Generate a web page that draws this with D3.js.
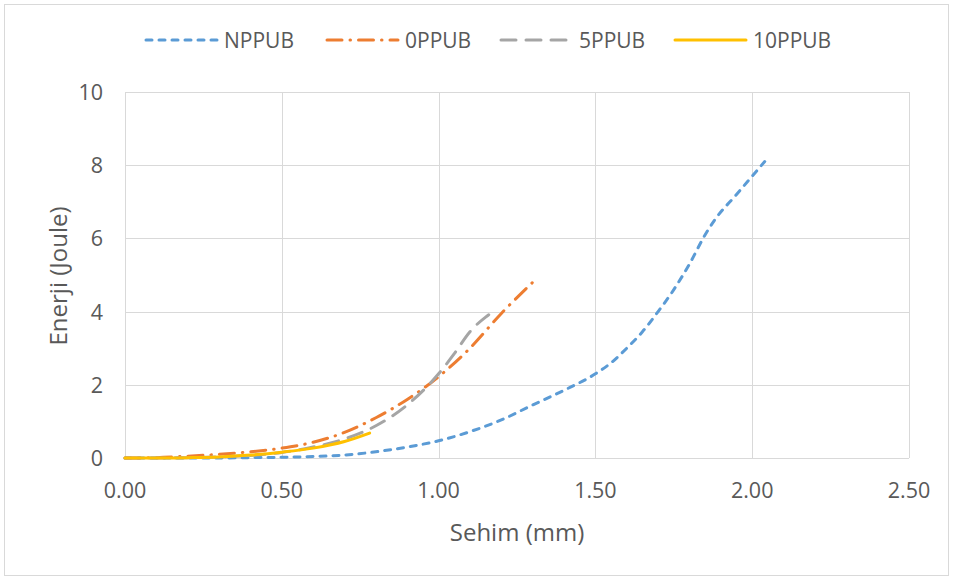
<!DOCTYPE html>
<html>
<head>
<meta charset="utf-8">
<script src="https://cdn.jsdelivr.net/npm/d3@7"></script>
<style>
  body { margin: 0; background: #fff; }
  svg { display: block; font-family: 'Open Sans', 'Noto Sans', sans-serif; }
</style>
</head>
<body>
<svg id="main_chart" width="953" height="581"></svg>
<script>
(function() {
  // values
  const series_names = ['NPPUB', '0PPUB', '5PPUB', '10PPUB'];
  const nppub_x = [0, 0.1, 0.2, 0.3, 0.4, 0.5, 0.6, 0.7, 0.8, 0.9, 1.0, 1.1, 1.2, 1.3, 1.4, 1.5, 1.55, 1.6, 1.65, 1.7, 1.75, 1.8, 1.85, 1.88, 1.95, 2.04];
  const nppub_y = [0, 0, 0, 0, 0.01, 0.02, 0.04, 0.08, 0.17, 0.3, 0.47, 0.72, 1.04, 1.45, 1.85, 2.3, 2.6, 3.0, 3.45, 4.0, 4.6, 5.3, 6.1, 6.5, 7.2, 8.1];
  const p0_x = [0, 0.1, 0.2, 0.3, 0.4, 0.5, 0.6, 0.7, 0.8, 0.9, 1.0, 1.1, 1.2, 1.3];
  const p0_y = [0, 0.01, 0.05, 0.1, 0.17, 0.27, 0.43, 0.7, 1.1, 1.6, 2.22, 3.0, 3.95, 4.8];
  const p5_x = [0, 0.1, 0.2, 0.3, 0.4, 0.5, 0.6, 0.7, 0.8, 0.9, 1.0, 1.05, 1.1, 1.15, 1.175];
  const p5_y = [0, 0, 0.01, 0.03, 0.07, 0.15, 0.3, 0.52, 0.88, 1.45, 2.3, 2.85, 3.45, 3.85, 4.0];
  const p10_x = [0, 0.1, 0.2, 0.3, 0.4, 0.5, 0.6, 0.7, 0.78];
  const p10_y = [0, 0, 0.01, 0.03, 0.08, 0.16, 0.27, 0.45, 0.68];
  const x_ticks = [0, 0.5, 1.0, 1.5, 2.0, 2.5];
  const y_ticks = [0, 2, 4, 6, 8, 10];

  const colors = ['#5b9bd5', '#ed7d31', '#a5a5a5', '#ffc000'];
  const dashes = ['6,7', '15,8,0.5,8', '15,10', null];
  const xs = [nppub_x, p0_x, p5_x, p10_x];
  const ys = [nppub_y, p0_y, p5_y, p10_y];

  const svg = d3.select('#main_chart');
  const text_color = '#595959';

  svg.append('rect').attr('x', 4.5).attr('y', 4.5).attr('width', 944).attr('height', 571)
    .attr('fill', '#fff').attr('stroke', '#d9d9d9').attr('stroke-width', 1);

  const xScale = d3.scaleLinear().domain([0, 2.5]).range([125, 909]);
  const yScale = d3.scaleLinear().domain([0, 10]).range([458, 92]);

  // gridlines
  const grid = svg.append('g').attr('id', 'grid');
  grid.selectAll('line.hgrid').data(y_ticks).enter().append('line').attr('class', 'hgrid')
    .attr('x1', xScale(0)).attr('x2', xScale(2.5))
    .attr('y1', function(d) { return Math.round(yScale(d)) + 0.5; })
    .attr('y2', function(d) { return Math.round(yScale(d)) + 0.5; })
    .attr('stroke', '#d9d9d9');
  grid.selectAll('line.vgrid').data(x_ticks).enter().append('line').attr('class', 'vgrid')
    .attr('y1', yScale(0)).attr('y2', yScale(10))
    .attr('x1', function(d) { return Math.round(xScale(d)) + 0.5; })
    .attr('x2', function(d) { return Math.round(xScale(d)) + 0.5; })
    .attr('stroke', '#d9d9d9');

  // tick labels
  svg.selectAll('text.xtick').data(x_ticks).enter().append('text').attr('class', 'xtick')
    .attr('x', function(d) { return xScale(d); }).attr('y', 498)
    .attr('text-anchor', 'middle').attr('fill', text_color).attr('font-size', 21.5)
    .text(function(d) { return d3.format('.2f')(d); });
  svg.selectAll('text.ytick').data(y_ticks).enter().append('text').attr('class', 'ytick')
    .attr('x', 103).attr('y', function(d) { return yScale(d) + 8; })
    .attr('text-anchor', 'end').attr('fill', text_color).attr('font-size', 21.5)
    .text(function(d) { return d; });

  svg.append('text').attr('x', 517).attr('y', 541).attr('text-anchor', 'middle')
    .attr('fill', text_color).attr('font-size', 24).text('Sehim (mm)');
  svg.append('text').attr('transform', 'translate(67,276) rotate(-90)').attr('text-anchor', 'middle')
    .attr('fill', text_color).attr('font-size', 24).text('Enerji (Joule)');

  // lines
  const line = d3.line().x(function(d) { return xScale(d[0]); }).y(function(d) { return yScale(d[1]); })
    .curve(d3.curveMonotoneX);
  const order = [0, 1, 2, 3];
  svg.append('g').attr('id', 'lines').selectAll('path').data(order).enter().append('path')
    .attr('d', function(i) { return line(d3.zip(xs[i], ys[i])); })
    .attr('fill', 'none').attr('stroke', function(i) { return colors[i]; })
    .attr('stroke-width', 3).attr('stroke-linecap', 'round')
    .attr('stroke-dasharray', function(i) { return dashes[i]; });

  // legend
  const legend_x = [146, 327, 501, 675];
  const legend = svg.append('g').attr('id', 'legend');
  legend.selectAll('line').data(order).enter().append('line')
    .attr('x1', function(i) { return legend_x[i]; }).attr('x2', function(i) { return legend_x[i] + 71; })
    .attr('y1', 40).attr('y2', 40)
    .attr('stroke', function(i) { return colors[i]; }).attr('stroke-width', 3)
    .attr('stroke-linecap', 'round').attr('stroke-dasharray', function(i) { return dashes[i]; });
  legend.selectAll('text').data(order).enter().append('text')
    .attr('x', function(i) { return legend_x[i] + 78; }).attr('y', 47.5)
    .attr('fill', text_color).attr('font-size', 21)
    .text(function(i) { return series_names[i]; });
}());
</script>
</body>
</html>
